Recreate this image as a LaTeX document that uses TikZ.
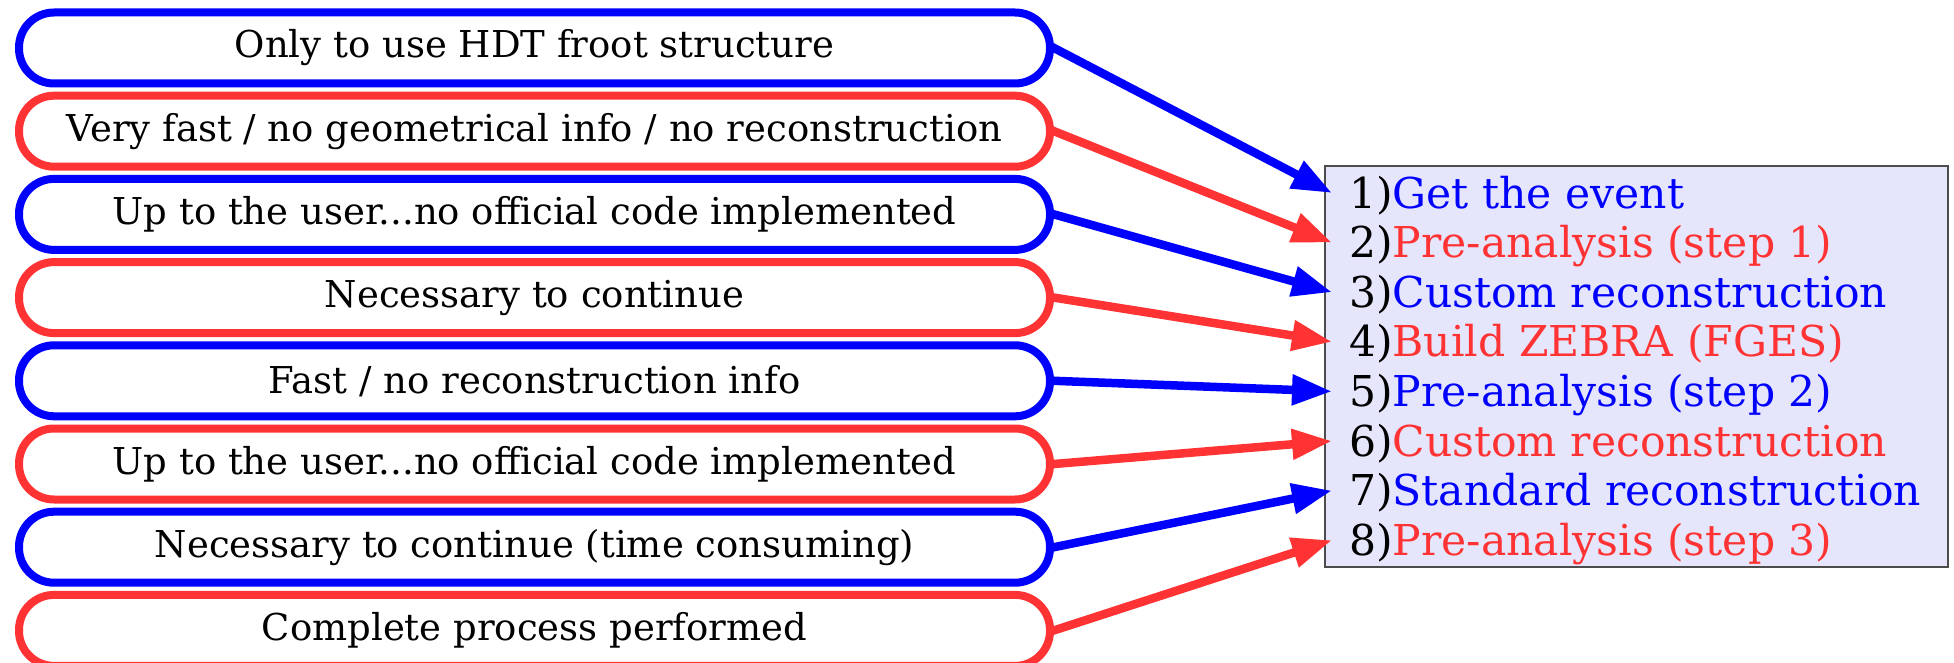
\documentclass[tikz,border=0pt]{standalone}
\usepackage{fontspec}
\setmainfont{DejaVu Serif}
\usetikzlibrary{arrows.meta}
\definecolor{myblue}{RGB}{0,0,255}
\definecolor{myred}{RGB}{255,51,51}
\definecolor{panelfill}{RGB}{229,229,251}
\begin{document}
\begin{tikzpicture}[x=1pt,y=-1pt,
  pill/.style={draw, line width=8pt, rounded corners=35pt, rectangle,
    minimum width=1031pt, minimum height=71pt, fill=white,
    font=\fontsize{37}{40}\selectfont, inner sep=0pt},
  bluepill/.style={pill, draw=myblue},
  redpill/.style={pill, draw=myred},
  itemline/.style={anchor=base west, inner xsep=17pt, inner ysep=0pt, outer sep=0pt,
    text height=32pt, text depth=2pt, font=\fontsize{42.5}{46}\selectfont},
  conn/.style={line width=8.5pt, -{Triangle[length=40pt,width=29pt]}, shorten <=-3pt},
  blueconn/.style={conn, draw=myblue, fill=myblue},
  redconn/.style={conn, draw=myred, fill=myred}]
\useasboundingbox (0,0) rectangle (1954,663);
\clip (0,0) rectangle (1954,663);
% left boxes
\node[bluepill] (b1) at (534.5,48.0) {Only to use HDT froot structure};
\node[redpill]  (b2) at (534.5,131.2) {Very fast / no geometrical info / no reconstruction};
\node[bluepill] (b3) at (534.5,214.4) {Up to the user...no official code implemented};
\node[redpill]  (b4) at (534.5,297.6) {Necessary to continue};
\node[bluepill] (b5) at (534.5,380.8) {Fast / no reconstruction info};
\node[redpill]  (b6) at (534.5,464.0) {Up to the user...no official code implemented};
\node[bluepill] (b7) at (534.5,547.2) {Necessary to continue (time consuming)};
\node[redpill]  (b8) at (534.5,630.4) {Complete process performed};
% right panel
\node[draw=black!70, line width=1.5pt, fill=panelfill, rectangle, inner sep=0pt,
  minimum width=623pt, minimum height=401pt] (panel) at (1636.5,366.5) {};
\node[itemline] (l1) at (1332,208.0) {1)\textcolor{myblue}{Get the event}};
\node[itemline] (l2) at (1332,257.6) {2)\textcolor{myred}{Pre-analysis (step 1)}};
\node[itemline] (l3) at (1332,307.2) {3)\textcolor{myblue}{Custom reconstruction}};
\node[itemline] (l4) at (1332,356.8) {4)\textcolor{myred}{Build ZEBRA (FGES)}};
\node[itemline] (l5) at (1332,406.4) {5)\textcolor{myblue}{Pre-analysis (step 2)}};
\node[itemline] (l6) at (1332,456.0) {6)\textcolor{myred}{Custom reconstruction}};
\node[itemline] (l7) at (1332,505.6) {7)\textcolor{myblue}{Standard reconstruction}};
\node[itemline] (l8) at (1332,555.2) {8)\textcolor{myred}{Pre-analysis (step 3)}};
% connectors
\draw[blueconn] (b1.east) -- (l1.west);
\draw[redconn]  (b2.east) -- (l2.west);
\draw[blueconn] (b3.east) -- (l3.west);
\draw[redconn]  (b4.east) -- (l4.west);
\draw[blueconn] (b5.east) -- (l5.west);
\draw[redconn]  (b6.east) -- (l6.west);
\draw[blueconn] (b7.east) -- (l7.west);
\draw[redconn]  (b8.east) -- (l8.west);
\end{tikzpicture}
\end{document}
